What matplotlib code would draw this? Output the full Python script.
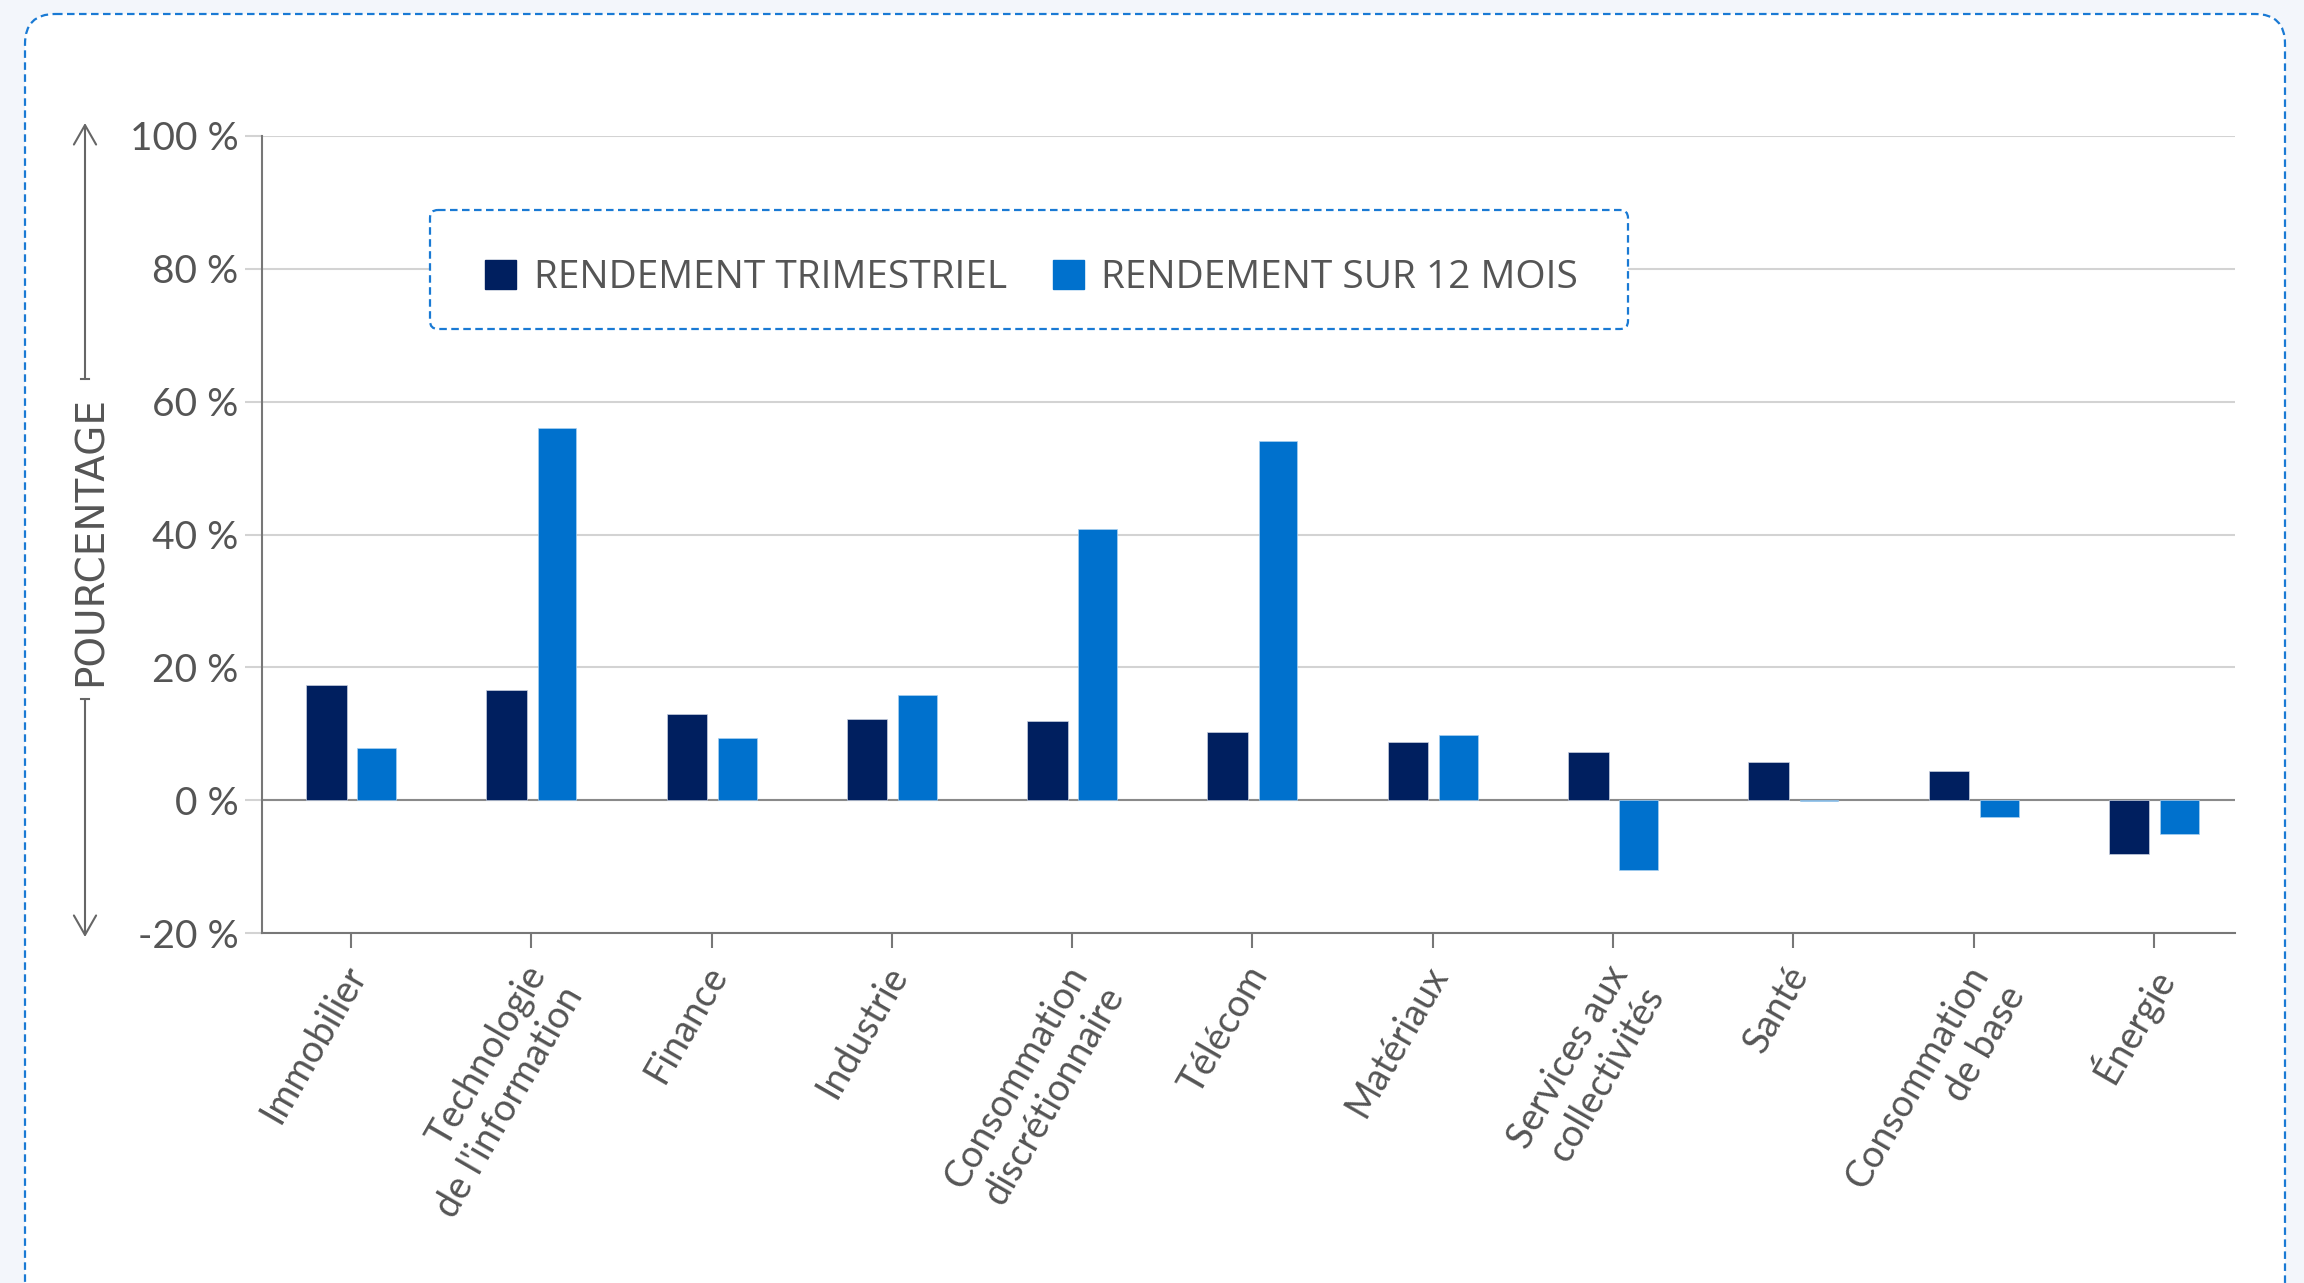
import numpy as np
import matplotlib.pyplot as plt
import matplotlib.transforms as mtransforms
from matplotlib.patches import FancyBboxPatch, Patch

plt.rcParams['font.family'] = ['Lato', 'DejaVu Sans']

categories = ["Immobilier", "Technologie\nde l'information", "Finance", "Industrie",
              "Consommation\ndiscrétionnaire", "Télécom", "Matériaux",
              "Services aux\ncollectivités", "Santé", "Consommation\nde base", "Énergie"]
trimestriel = [17.4, 16.6, 12.9, 12.2, 11.9, 10.3, 8.8, 7.2, 5.7, 4.4, -8.1]
sur_12_mois = [7.9, 56.1, 9.4, 15.8, 40.8, 54.1, 9.8, -10.5, -0.2, -2.5, -5.1]
series_names = ['RENDEMENT TRIMESTRIEL', 'RENDEMENT SUR 12 MOIS']
y_ticks = [-20, 0, 20, 40, 60, 80, 100]
y_labels = ['-20 %', '0 %', '20 %', '40 %', '60 %', '80 %', '100 %']

dark = '#001f5f'
light = '#0071cd'
txt = '#555555'
blue_dash = '#1a7ad4'
W, H = 2304, 1283

fig = plt.figure(figsize=(W / 100, H / 100), dpi=100, facecolor='#f3f6fb')

# background card, drawn in pixel coords
deco = fig.add_axes([0, 0, 1, 1])
deco.set_xlim(0, W)
deco.set_ylim(H, 0)
deco.axis('off')
deco.set_zorder(0)
card = FancyBboxPatch((25, 14), 2260, 1400, boxstyle='round,pad=0,rounding_size=30',
                      fc='white', ec=blue_dash, lw=1.6, ls=(0, (3.4, 2.0)))
deco.add_patch(card)

# y label with arrows
arrow = dict(arrowstyle='->,head_length=0.7,head_width=0.4', color='#666666',
             lw=1.5, shrinkA=0, shrinkB=0, mutation_scale=20)
deco.annotate('', xy=(85, 123), xytext=(85, 379), arrowprops=arrow)
deco.annotate('', xy=(85, 937), xytext=(85, 699), arrowprops=arrow)
deco.plot([81, 89], [379, 379], color='#666666', lw=1.5)
deco.plot([81, 89], [699, 699], color='#666666', lw=1.5)
deco.text(91, 541, 'POURCENTAGE', rotation=90, ha='center', va='center', color=txt,
          fontsize=28, family=['Liberation Sans Narrow', 'DejaVu Sans'])

ax = fig.add_axes([262 / W, 1 - 933 / H, (2235 - 262) / W, (933 - 136) / H])
ax.set_zorder(1)
ax.patch.set_alpha(0)

x = np.arange(len(categories))
ax.bar(x - 0.137, trimestriel, 0.225, color=dark, edgecolor='#c8d0e0', lw=0.5, zorder=3)
ax.bar(x + 0.142, sur_12_mois, 0.215, color=light, edgecolor='#a8d0f0', lw=0.5, zorder=3)

ax.set_xlim(-0.494, 10.45)
ax.set_ylim(-20, 100)
ax.set_yticks(y_ticks)
ax.set_yticklabels(y_labels)
ax.yaxis.grid(True, color='#d3d3d3', lw=1.5, zorder=0)
ax.set_axisbelow(True)
ax.axhline(0, color='#8a8a8a', lw=1.5, zorder=2)

for s in ['top', 'right']:
    ax.spines[s].set_visible(False)
for s in ['left', 'bottom']:
    ax.spines[s].set_color('#777777')
    ax.spines[s].set_linewidth(1.5)

ax.tick_params(axis='y', length=12, color='#d3d3d3', width=1.5, pad=5,
               labelsize=28, labelcolor=txt)
ax.tick_params(axis='x', length=11, color='#777777', width=1.5, pad=8)
ax.set_xticks(x)
ax.set_xticklabels(categories, rotation=60, ha='right', va='top', rotation_mode='anchor',
                   multialignment='right', fontsize=27, color=txt)
shift = mtransforms.ScaledTranslation(-0.09, 0, fig.dpi_scale_trans)
for lab in ax.get_xticklabels():
    lab.set_transform(lab.get_transform() + shift)

# legend: dashed box drawn separately, entries without frame
legend_box = FancyBboxPatch((430, 210), 1198, 119, boxstyle='round,pad=0,rounding_size=8',
                            fc='white', ec=blue_dash, lw=1.6, ls=(0, (3.4, 2.0)),
                            transform=deco.transData, zorder=4)
ax.add_patch(legend_box)
handles = [Patch(color=dark), Patch(color=light)]
leg = ax.legend(handles, series_names, loc='center left',
                bbox_to_anchor=(485 / W, 1 - 278 / H), bbox_transform=fig.transFigure,
                ncol=2, handlelength=0.8, handleheight=0.8,
                handletextpad=0.45, columnspacing=1.18, borderpad=0, borderaxespad=0,
                frameon=False, labelcolor=txt,
                prop=dict(family=['Open Sans', 'DejaVu Sans'], size=28))
leg.set_zorder(5)

fig.savefig('out.png', dpi=100, facecolor=fig.get_facecolor())
